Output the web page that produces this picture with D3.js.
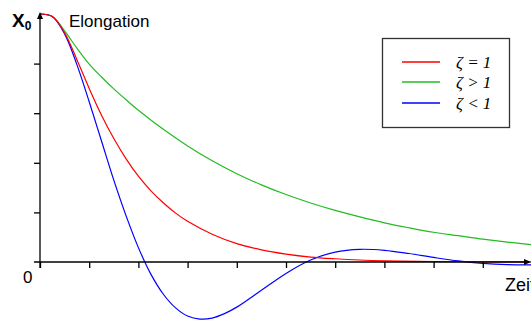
<!DOCTYPE html>
<html>
<head>
<meta charset="utf-8">
<script src="https://cdn.jsdelivr.net/npm/d3@7"></script>
<style>
  html, body { margin: 0; padding: 0; background: #fff; }
  svg { display: block; }
</style>
</head>
<body>
<svg id="chart" width="531" height="322"></svg>
<script>
// Time in tick units, elongation with X0 = 5 units
const timeRed = [0, 0.25, 0.5, 0.75, 1, 1.25, 1.5, 1.75, 2, 2.25, 2.5, 2.75, 3, 3.5, 4, 4.5, 5, 5.5, 6, 6.5, 7, 8, 9, 10];
const critical = [5, 4.95, 4.62, 4.08, 3.5, 2.96, 2.49, 2.08, 1.73, 1.44, 1.2, 0.99, 0.82, 0.56, 0.37, 0.245, 0.16, 0.1, 0.065, 0.04, 0.025, 0.01, 0.004, 0.0015];

const timeGreen = [0, 0.25, 0.5, 0.75, 1, 1.25, 1.5, 1.75, 2, 2.5, 3, 3.5, 4, 4.5, 5, 5.5, 6, 6.5, 7, 7.5, 8, 8.5, 9, 9.5, 10];
const overdamped = [5, 4.95, 4.66, 4.31, 3.99, 3.73, 3.49, 3.27, 3.06, 2.68, 2.34, 2.04, 1.78, 1.555, 1.36, 1.19, 1.04, 0.91, 0.79, 0.69, 0.6, 0.53, 0.46, 0.4, 0.35];

const timeBlue = [0, 0.25, 0.5, 0.75, 1, 1.25, 1.5, 1.75, 2, 2.25, 2.5, 2.75, 3, 3.25, 3.5, 3.75, 4, 4.5, 5, 5.5, 6, 6.5, 7, 7.5, 8, 8.5, 9, 9.5, 10];
const underdamped = [5, 4.95, 4.6, 3.98, 3.23, 2.44, 1.65, 0.93, 0.29, -0.24, -0.64, -0.92, -1.09, -1.15, -1.13, -1.04, -0.91, -0.57, -0.23, 0.04, 0.2, 0.256, 0.236, 0.171, 0.092, 0.021, -0.028, -0.053, -0.057];

const xTicks = [0, 1, 2, 3, 4, 5, 6, 7, 8, 9];
const yTicks = [1, 2, 3, 4];

const legendLabels = ["ζ = 1", "ζ > 1", "ζ < 1"];
const colors = ["#ff0000", "#22bb22", "#0000ff"];

const svg = d3.select("#chart");

const x = d3.scaleLinear().domain([0, 10]).range([40, 532]);
const y = d3.scaleLinear().domain([0, 5]).range([262, 14]);

// Curves
const series = [
  { t: timeRed, v: critical, color: colors[0] },
  { t: timeGreen, v: overdamped, color: colors[1] },
  { t: timeBlue, v: underdamped, color: colors[2] }
];

const line = d3.line()
  .x(d => x(d[0]))
  .y(d => y(d[1]))
  .curve(d3.curveCatmullRom.alpha(0.5));

// Green first, then blue, red on top
[1, 2, 0].forEach(i => {
  const s = series[i];
  svg.append("path")
    .datum(s.t.map((t, k) => [t, s.v[k]]))
    .attr("fill", "none")
    .attr("stroke", s.color)
    .attr("stroke-width", 1.2)
    .attr("d", line);
});

// Axis ticks
const xAxis = d3.axisBottom(x).tickValues(xTicks).tickSize(6).tickFormat("");
const gx = svg.append("g").attr("transform", `translate(0,${y(0)})`).call(xAxis);
gx.select(".domain").remove();
gx.selectAll(".tick line").attr("stroke", "#000").attr("stroke-width", 1.3);

const yAxis = d3.axisLeft(y).tickValues(yTicks).tickSize(6).tickFormat("");
const gy = svg.append("g").attr("transform", `translate(${x(0)},0)`).call(yAxis);
gy.select(".domain").remove();
gy.selectAll(".tick line").attr("stroke", "#000").attr("stroke-width", 1.3);

// Axis lines with arrowheads
svg.append("line")
  .attr("x1", 34).attr("x2", 527)
  .attr("y1", y(0)).attr("y2", y(0))
  .attr("stroke", "#000").attr("stroke-width", 1.3);
svg.append("path")
  .attr("d", `M531,${y(0)} L524,${y(0) - 3} L524,${y(0) + 3} Z`)
  .attr("fill", "#000");

svg.append("line")
  .attr("x1", x(0)).attr("x2", x(0))
  .attr("y1", 268).attr("y2", 17)
  .attr("stroke", "#000").attr("stroke-width", 1.3);
svg.append("path")
  .attr("d", `M${x(0)},12 L${x(0) - 3},19 L${x(0) + 3},19 Z`)
  .attr("fill", "#000");

// Labels
const xo = svg.append("text")
  .attr("x", 12).attr("y", 27)
  .attr("font-family", "Liberation Sans, Arial, sans-serif")
  .attr("font-weight", "bold")
  .attr("font-size", 19)
  .attr("fill", "#000");
xo.append("tspan").text("X");
xo.append("tspan").attr("font-size", 12).attr("dy", 2.5).text("0");

svg.append("text")
  .attr("x", 69).attr("y", 27)
  .attr("font-family", "Liberation Sans, Arial, sans-serif")
  .attr("font-size", 17)
  .attr("fill", "#000")
  .text("Elongation");

svg.append("text")
  .attr("x", 23).attr("y", 283)
  .attr("font-family", "Liberation Sans, Arial, sans-serif")
  .attr("font-size", 17)
  .attr("fill", "#000")
  .text("0");

svg.append("text")
  .attr("x", 505).attr("y", 291)
  .attr("font-family", "Liberation Sans, Arial, sans-serif")
  .attr("font-size", 18)
  .attr("fill", "#000")
  .text("Zeit");

// Legend
const legend = svg.append("g");
legend.append("rect")
  .attr("x", 382.5).attr("y", 38.5)
  .attr("width", 127).attr("height", 89)
  .attr("fill", "#fff")
  .attr("stroke", "#333")
  .attr("stroke-width", 1.3);

const legendY = [62, 82, 103];
legendLabels.forEach((lab, i) => {
  legend.append("line")
    .attr("x1", 402).attr("x2", 440)
    .attr("y1", legendY[i]).attr("y2", legendY[i])
    .attr("stroke", colors[i]).attr("stroke-width", 1.4);
  legend.append("text")
    .attr("x", 456).attr("y", legendY[i] + 6)
    .attr("font-family", "Liberation Serif, Times New Roman, serif")
    .attr("font-style", "italic")
    .attr("font-size", 17)
    .attr("fill", "#000")
    .text(lab);
});
</script>
</body>
</html>
